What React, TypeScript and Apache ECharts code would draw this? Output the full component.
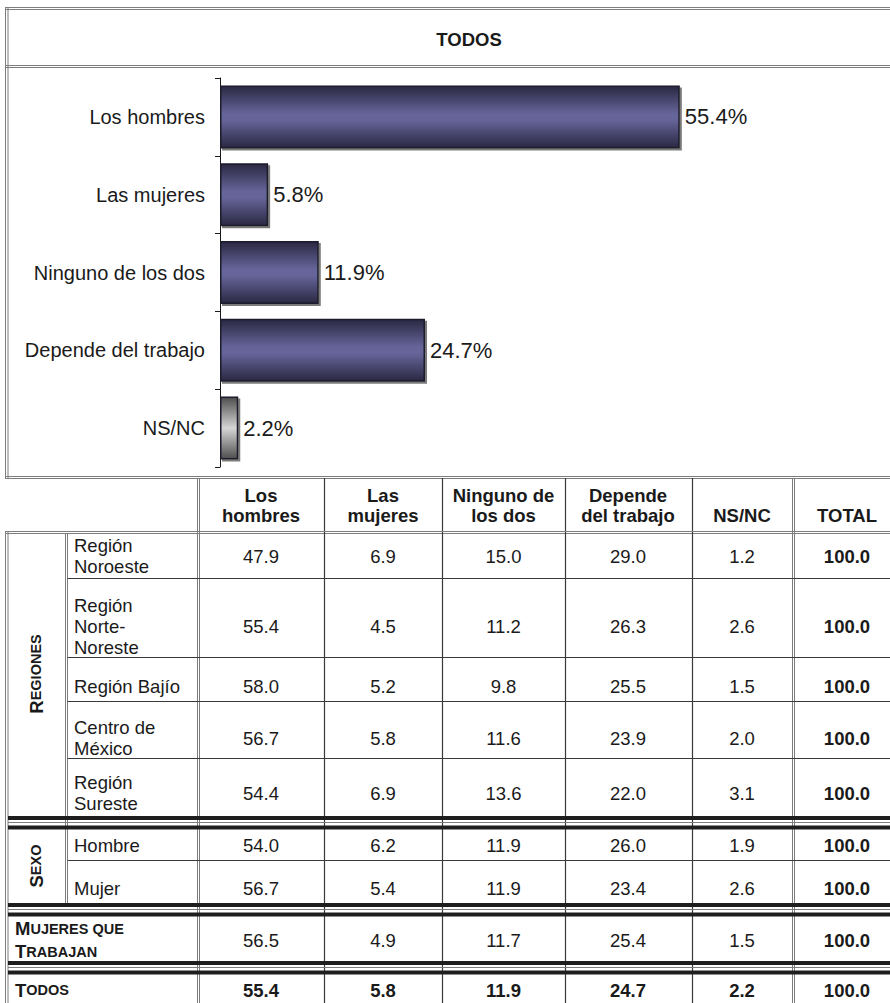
import React, { useEffect, useRef } from "react";
import * as echarts from "echarts";

// ---------- data ----------
const chartTitle = "TODOS";
const chartCategories = ["Los hombres", "Las mujeres", "Ninguno de los dos", "Depende del trabajo", "NS/NC"];
const chartValues = [55.4, 5.8, 11.9, 24.7, 2.2];

const tableHeaders = ["Los\nhombres", "Las\nmujeres", "Ninguno de\nlos dos", "Depende\ndel trabajo", "NS/NC", "TOTAL"];
const rowLabels = [
  "Región\nNoroeste",
  "Región\nNorte-\nNoreste",
  "Región Bajío",
  "Centro de\nMéxico",
  "Región\nSureste",
  "Hombre",
  "Mujer",
  "Mujeres que\nTrabajan",
  "Todos",
];
const groupRegiones = "Regiones";
const groupSexo = "Sexo";

const colLosHombres = [47.9, 55.4, 58.0, 56.7, 54.4, 54.0, 56.7, 56.5, 55.4];
const colLasMujeres = [6.9, 4.5, 5.2, 5.8, 6.9, 6.2, 5.4, 4.9, 5.8];
const colNinguno = [15.0, 11.2, 9.8, 11.6, 13.6, 11.9, 11.9, 11.7, 11.9];
const colDepende = [29.0, 26.3, 25.5, 23.9, 22.0, 26.0, 23.4, 25.4, 24.7];
const colNsnc = [1.2, 2.6, 1.5, 2.0, 3.1, 1.9, 2.6, 1.5, 2.2];
const colTotal = [100.0, 100.0, 100.0, 100.0, 100.0, 100.0, 100.0, 100.0, 100.0];
const tableColumns = [colLosHombres, colLasMujeres, colNinguno, colDepende, colNsnc, colTotal];

// ---------- layout ----------
const FONT = '"Liberation Sans", Arial, Helvetica, sans-serif';
const W = 890;
const H = 1003;
const colCenters = [261, 383, 503.5, 628, 742, 847];
const colLinesSingle = [324.5, 442.5, 565.5, 692.5];
const rowTextY = [556, 626, 686, 738, 793, 845, 888, 940, 990];
const rowLinesInner = [578.5, 657.5, 701.5, 758.5, 860.5];
const separatorsTop = [816, 903, 961];

const GRID_LINE = "#7d7d7d";
const CELL_LINE = "#3a3a3a";

function hline(x1: number, x2: number, y: number, color: string, w = 1) {
  return { type: "line", silent: true, shape: { x1, y1: y, x2, y2: y }, style: { stroke: color, lineWidth: w } };
}
function vline(x: number, y1: number, y2: number, color: string, w = 1) {
  return { type: "line", silent: true, shape: { x1: x, y1, x2: x, y2 }, style: { stroke: color, lineWidth: w } };
}
function txt(x: number, y: number, text: string, opts: any = {}) {
  const align = opts.align || "center";
  return {
    type: "text",
    silent: true,
    x,
    y,
    rotation: opts.rotation || 0,
    style: {
      text,
      fontSize: opts.fontSize || 18.5,
      fontWeight: opts.bold ? "bold" : "normal",
      fontFamily: FONT,
      fill: "#1a1a1a",
      align,
      verticalAlign: "middle",
      textAlign: align,
      textVerticalAlign: "middle",
      lineHeight: opts.lineHeight || 21,
      rich: opts.rich,
    },
  };
}

function smallCaps(s: string) {
  return s
    .split("\n")
    .map((line) => {
      let out = "";
      let cur = "";
      let curType = "";
      for (const ch of line) {
        const t = ch !== " " && ch === ch.toUpperCase() ? "big" : "small";
        if (t !== curType && cur) {
          out += `{${curType}|${cur}}`;
          cur = "";
        }
        curType = t;
        cur += ch.toUpperCase();
      }
      if (cur) out += `{${curType}|${cur}}`;
      return out;
    })
    .join("\n");
}

const scRich = {
  big: { fontSize: 18.5, fontWeight: "bold", fontFamily: FONT, fill: "#1a1a1a", lineHeight: 23 },
  small: { fontSize: 14.5, fontWeight: "bold", fontFamily: FONT, fill: "#1a1a1a", lineHeight: 23 },
};

function buildGraphics() {
  const g: any[] = [];
  // chart box
  g.push(hline(5, W, 7.5, GRID_LINE), hline(5, W, 9.5, GRID_LINE));
  g.push(hline(5, W, 65.5, GRID_LINE), hline(5, W, 67.5, GRID_LINE));
  g.push(hline(5, W, 476.5, GRID_LINE), hline(5, W, 478.5, GRID_LINE));
  g.push(vline(5.5, 7, 479, GRID_LINE), vline(8, 7, 479, GRID_LINE));
  g.push(txt(469, 39, chartTitle, { bold: true, fontSize: 18.5 }));

  // header row
  g.push(vline(197.5, 478, 533, GRID_LINE), vline(199.5, 478, 533, GRID_LINE));
  g.push(vline(792.5, 478, 533, GRID_LINE), vline(794.5, 478, 533, GRID_LINE));
  colLinesSingle.forEach((x) => g.push(vline(x, 478, 533, CELL_LINE, 1.2)));
  g.push(hline(5, W, 531.5, GRID_LINE), hline(5, W, 533.5, GRID_LINE));
  tableHeaders.forEach((h, i) => {
    const n = h.split("\n").length;
    g.push(txt(colCenters[i], 525 - n * 10, h, { bold: true, lineHeight: 20 }));
  });

  // body verticals
  g.push(vline(5.5, 531, H, GRID_LINE), vline(8, 531, H, GRID_LINE));
  g.push(vline(65.5, 533, 903, GRID_LINE), vline(67.5, 533, 903, GRID_LINE));
  g.push(vline(197.5, 533, H, GRID_LINE), vline(199.5, 533, H, GRID_LINE));
  g.push(vline(792.5, 533, H, GRID_LINE), vline(794.5, 533, H, GRID_LINE));
  colLinesSingle.forEach((x) => g.push(vline(x, 533, H, CELL_LINE, 1.2)));

  // inner row lines
  rowLinesInner.forEach((y) => g.push(hline(67.5, W, y, CELL_LINE, 1.2)));

  // thick separators
  separatorsTop.forEach((t) => {
    g.push({ type: "rect", silent: true, shape: { x: 8, y: t, width: W - 8, height: 4 }, style: { fill: "#1e1e1e" } });
    g.push(hline(8, W, t + 6.5, GRID_LINE));
    g.push({ type: "rect", silent: true, shape: { x: 8, y: t + 9.5, width: W - 8, height: 4 }, style: { fill: "#1e1e1e" } });
  });

  // group labels
  g.push(txt(36, 674, smallCaps(groupRegiones), { rotation: Math.PI / 2, rich: scRich }));
  g.push(txt(36, 866, smallCaps(groupSexo), { rotation: Math.PI / 2, rich: scRich }));

  // row labels
  rowLabels.forEach((lab, r) => {
    if (r >= 7) {
      g.push(txt(15, rowTextY[r], smallCaps(lab), { align: "left", rich: scRich, lineHeight: 23 }));
    } else {
      g.push(txt(74, rowTextY[r], lab, { align: "left", lineHeight: 21 }));
    }
  });

  // values
  tableColumns.forEach((col, c) => {
    col.forEach((v, r) => {
      const bold = c === tableColumns.length - 1 || r === rowLabels.length - 1;
      g.push(txt(colCenters[c], rowTextY[r], v.toFixed(1), { bold }));
    });
  });
  return g;
}

const purpleFill = new echarts.graphic.LinearGradient(0, 0, 0, 1, [
  { offset: 0, color: "#2a2842" },
  { offset: 0.45, color: "#66659a" },
  { offset: 0.55, color: "#66659a" },
  { offset: 1, color: "#2a2842" },
]);
const grayFill = new echarts.graphic.LinearGradient(0, 0, 0, 1, [
  { offset: 0, color: "#4e4e4e" },
  { offset: 0.5, color: "#d6d6d6" },
  { offset: 1, color: "#4e4e4e" },
]);

export default function App() {
  const ref = useRef<HTMLDivElement>(null);
  useEffect(() => {
    if (!ref.current) return;
    const chart = echarts.init(ref.current, undefined, { renderer: "svg" });
    chart.setOption({
      animation: false,
      backgroundColor: "#ffffff",
      grid: { left: 220, right: 6, top: 78, bottom: H - 467, containLabel: false },
      xAxis: { type: "value", min: 0, max: 80, show: false },
      yAxis: {
        type: "category",
        data: chartCategories,
        inverse: true,
        axisLine: { show: true, lineStyle: { color: "#1a1a1a", width: 1 } },
        axisTick: { show: true, length: 5, lineStyle: { color: "#1a1a1a" } },
        axisLabel: { fontSize: 20, color: "#1a1a1a", margin: 15, fontFamily: FONT },
        splitLine: { show: false },
      },
      series: [
        {
          type: "bar",
          barWidth: 63,
          data: chartValues.map((v, i) => ({
            value: v,
            itemStyle: {
              color: i === chartValues.length - 1 ? grayFill : purpleFill,
              borderColor: "#1b1a2c",
              borderWidth: 1.5,
              shadowColor: "#7a7a7a",
              shadowOffsetX: 2,
              shadowOffsetY: 2,
              shadowBlur: 0,
            },
          })),
          label: {
            show: true,
            position: "right",
            distance: 5,
            fontSize: 22,
            color: "#1a1a1a",
            fontFamily: FONT,
            formatter: (p: any) => Number(p.value).toFixed(1) + "%",
          },
        },
      ],
      graphic: buildGraphics(),
    });
    return () => chart.dispose();
  }, []);
  return (
    <div
      ref={ref}
      style={{ position: "absolute", left: 0, top: 0, width: W, height: H, background: "#fff" }}
    />
  );
}
